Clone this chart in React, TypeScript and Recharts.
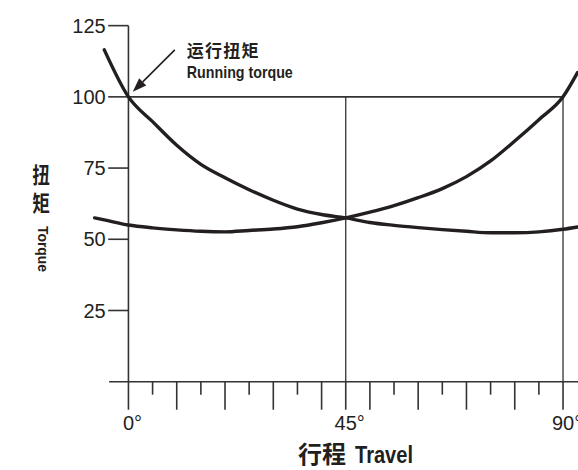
import { ComposedChart, Scatter, XAxis, YAxis, ReferenceLine } from "recharts";

// travel in degrees, torque in % of running torque
const travel = [-7, -5, 0, 5, 10, 15, 20, 25, 30, 35, 40, 45, 50, 55, 60, 65, 70, 75, 80, 85, 90, 93];
const runningTorque = [null, 116.5, 100, 91.3, 83, 76.3, 71.6, 67.4, 63.7, 60.6, 58.7, 57.5, 55.9, 54.9, 54.1, 53.4, 52.8, 52.3, 52.3, 52.6, 53.5, 54.3];
const reverseTorque = [57.5, 56.8, 55.0, 54.0, 53.3, 52.8, 52.6, 53.1, 53.6, 54.4, 55.8, 57.5, 59.5, 61.8, 64.6, 67.8, 72.0, 77.5, 84.5, 92, 100, 108.5];

const yTicks = [25, 50, 75, 100, 125];
const xTicks = [0, 5, 10, 15, 20, 25, 30, 35, 40, 45, 50, 55, 60, 65, 70, 75, 80, 85, 90];
const xLabelTicks = [0, 45, 90];

const arrowFrom = { x: 9.6, y: 116.5 };
const arrowTo = { x: 0.9, y: 101.8 };

const runningData = travel
  .map((deg, i) => ({ deg, value: runningTorque[i] }))
  .filter((d) => d.value != null);
const reverseData = travel.map((deg, i) => ({ deg, value: reverseTorque[i] }));

const INK = "#231f20";
const LINE = "#333";
const SANS = "'Liberation Sans', Arial, sans-serif";
const NARROW = "'Liberation Sans Narrow', 'Arial Narrow', 'Liberation Sans', sans-serif";
const CJK = "'Noto Sans CJK SC', sans-serif";

const curveStyle = { stroke: INK, strokeWidth: 3.4, fill: "none", strokeLinecap: "round" as const };

function TravelTick({ x, y, payload }: any) {
  const v = Number(payload.value);
  const long = v % 10 === 0 || v === 45;
  return (
    <g>
      <line x1={x} y1={y} x2={x} y2={y + (long ? 28 : 13)} stroke={LINE} strokeWidth={1.6} />
      {xLabelTicks.includes(v) && (
        <text x={x} y={y + 48} dx={4} textAnchor="middle" fontFamily={SANS} fontSize={20} fill={INK}>
          {v}°
        </text>
      )}
    </g>
  );
}

const yTickShape = (label: number) => (p: any) => (
  <g>
    <line x1={p.x1} y1={p.y1} x2={p.x2} y2={p.y2} stroke={LINE} strokeWidth={1.6} />
    <text x={p.x1 - 2.5} y={p.y1} dy="0.36em" textAnchor="end" fontFamily={SANS} fontSize={20} fill={INK}>
      {label}
    </text>
  </g>
);

function ArrowShape(p: any) {
  const { x1, y1, x2, y2 } = p;
  const len = Math.hypot(x2 - x1, y2 - y1);
  const ux = (x2 - x1) / len;
  const uy = (y2 - y1) / len;
  const head = 14;
  const half = 5;
  const bx = x2 - ux * head;
  const by = y2 - uy * head;
  return (
    <g>
      <line x1={x1} y1={y1} x2={bx} y2={by} stroke={INK} strokeWidth={1.6} />
      <polygon
        points={`${x2},${y2} ${bx - uy * half},${by + ux * half} ${bx + uy * half},${by - ux * half}`}
        fill={INK}
      />
      <text x={x1 + 12} y={y1 + 7} fontFamily={CJK} fontWeight={700} fontSize={17} letterSpacing={1.2} fill={INK}>
        运行扭矩
      </text>
      <text
        x={x1 + 12}
        y={y1 + 28}
        fontFamily={NARROW}
        fontWeight={700}
        fontSize={17}
        textLength={106}
        lengthAdjust="spacingAndGlyphs"
        fill={INK}
      >
        Running torque
      </text>
    </g>
  );
}

const noPoint = () => <g />;

export default function App() {
  return (
    <div style={{ position: "absolute", left: 0, top: 0, width: 578, height: 470, background: "#fff" }}>
      <ComposedChart width={578} height={470} margin={{ top: 0, right: 0, bottom: 0, left: 0 }}>
        <XAxis
          dataKey="deg"
          type="number"
          domain={[-26.6, 93.1]}
          ticks={xTicks}
          interval={0}
          axisLine={false}
          tickLine={false}
          tickSize={0}
          tickMargin={0}
          height={88.3}
          tick={<TravelTick />}
        />
        <YAxis dataKey="value" type="number" domain={[0, 134]} hide />

        {/* axes */}
        <ReferenceLine segment={[{ x: 0, y: 0 }, { x: 0, y: 125 }]} stroke={LINE} strokeWidth={1.6} />
        <ReferenceLine segment={[{ x: -4, y: 0 }, { x: 93.1, y: 0 }]} stroke={LINE} strokeWidth={1.6} />
        {yTicks.map((t) => (
          <ReferenceLine
            key={t}
            segment={[{ x: -4.2, y: t }, { x: 0, y: t }]}
            shape={yTickShape(t)}
          />
        ))}

        {/* guide lines */}
        <ReferenceLine segment={[{ x: 0, y: 100 }, { x: 90, y: 100 }]} stroke={LINE} strokeWidth={1.6} />
        <ReferenceLine segment={[{ x: 45, y: 0 }, { x: 45, y: 100 }]} stroke={LINE} strokeWidth={1.3} />
        <ReferenceLine segment={[{ x: 90, y: 0 }, { x: 90, y: 100 }]} stroke={LINE} strokeWidth={1.3} />

        <Scatter
          data={runningData}
          dataKey="value"
          fill={INK}
          line={curveStyle}
          lineJointType="monotoneX"
          shape={noPoint}
          isAnimationActive={false}
        />
        <Scatter
          data={reverseData}
          dataKey="value"
          fill={INK}
          line={curveStyle}
          lineJointType="monotoneX"
          shape={noPoint}
          isAnimationActive={false}
        />

        <ReferenceLine segment={[arrowFrom, arrowTo]} shape={ArrowShape} />
      </ComposedChart>

      <svg
        width={578}
        height={470}
        style={{ position: "absolute", left: 0, top: 0, pointerEvents: "none" }}
      >
        <text
          transform="translate(41, 164) scale(0.8, 1)"
          style={{ writingMode: "vertical-rl" }}
          letterSpacing={6}
          fontFamily={CJK}
          fontWeight={700}
          fontSize={22}
          fill={INK}
        >
          扭矩
        </text>
        <text
          transform="translate(38, 249) rotate(90)"
          textAnchor="middle"
          fontFamily={NARROW}
          fontWeight={700}
          fontSize={14}
          textLength={46}
          lengthAdjust="spacingAndGlyphs"
          fill={INK}
        >
          Torque
        </text>
        <text x={298} y={463} fontFamily={CJK} fill={INK} fontWeight={700} fontSize={24}>
          行程
        </text>
        <text
          x={355}
          y={463}
          fontFamily={NARROW}
          fill={INK}
          fontWeight={700}
          fontSize={24}
          textLength={58}
          lengthAdjust="spacingAndGlyphs"
        >
          Travel
        </text>
      </svg>
    </div>
  );
}
